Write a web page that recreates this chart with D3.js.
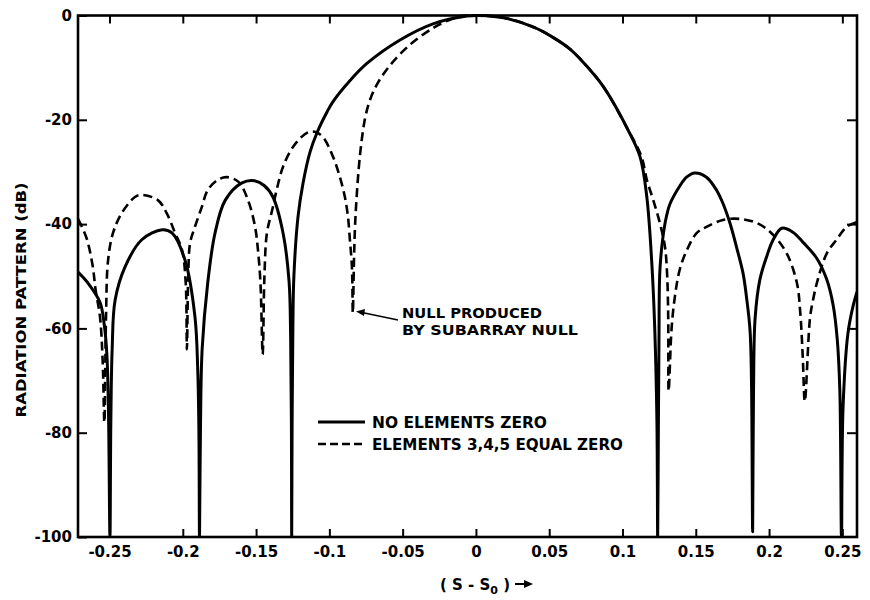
<!DOCTYPE html>
<html>
<head>
<meta charset="utf-8">
<script src="https://cdn.jsdelivr.net/npm/d3@7"></script>
<style>
  html, body { margin: 0; padding: 0; background: #fff; }
  svg { display: block; }
  text { font-family: "DejaVu Sans", sans-serif; font-weight: bold; fill: #000; }
</style>
</head>
<body>
<svg id="chart" width="870" height="600"></svg>
<script>
// Pattern readings: [S - S0, dB]
const noElementsZero = [
  [-0.2715, -49.2], [-0.2647, -51.3], [-0.2565, -55], [-0.2535, -59.5], [-0.2518, -65],
  [-0.2507, -76], [-0.2497, -100], [-0.2491, -78], [-0.2482, -64], [-0.2462, -54.6],
  [-0.2394, -48.2], [-0.228, -43], [-0.214, -41.1], [-0.2074, -41.7], [-0.1985, -46.9],
  [-0.1917, -57.8], [-0.1898, -68], [-0.189, -80], [-0.1886, -100], [-0.1879, -78],
  [-0.1868, -64], [-0.183, -51.3], [-0.178, -41.7], [-0.171, -35.4], [-0.1596, -32.1],
  [-0.151, -31.7], [-0.1445, -32.6], [-0.1385, -34.8], [-0.1316, -41.7], [-0.1275, -51],
  [-0.1264, -62], [-0.1259, -78], [-0.1257, -100], [-0.1254, -78], [-0.1249, -60],
  [-0.1242, -50], [-0.1214, -38.6], [-0.118, -32.2], [-0.1132, -26.2], [-0.108, -22.2],
  [-0.1016, -18.5], [-0.0975, -16.5], [-0.086, -12.5], [-0.0744, -9.2], [-0.0518, -4.7],
  [-0.0293, -1.6], [-0.006, -0.1], [0.003, 0], [0.02, -0.5], [0.039, -2.2],
  [0.052, -4.1], [0.064, -6.4], [0.073, -8.9], [0.0866, -13.5], [0.1037, -21.9],
  [0.112, -27.1], [0.1166, -34.8], [0.12, -47.5], [0.122, -60], [0.1235, -78],
  [0.124, -100], [0.1245, -78], [0.1249, -62], [0.1255, -49], [0.1276, -42.5],
  [0.13, -38.5], [0.1323, -36.2], [0.1391, -32.7], [0.1437, -31], [0.1494, -30.2],
  [0.1573, -31], [0.1642, -33.5], [0.1685, -36], [0.1733, -39.8], [0.1778, -44.4],
  [0.1823, -49.5], [0.1846, -54], [0.187, -60.3], [0.188, -70], [0.1888, -99],
  [0.1894, -72], [0.1905, -58], [0.1937, -50.7], [0.1983, -46.3], [0.2028, -43],
  [0.2087, -40.8], [0.216, -41.5], [0.2232, -43.5], [0.2324, -46.5], [0.2392, -50.5],
  [0.2437, -55.5], [0.2465, -62], [0.2483, -72], [0.2494, -100], [0.2505, -75],
  [0.2538, -61], [0.2575, -55.5], [0.26, -53]
];

const elements345Zero = [
  [-0.2715, -39], [-0.2687, -40.6], [-0.2653, -43], [-0.2615, -48], [-0.2595, -52.6],
  [-0.2565, -57.8], [-0.2547, -66], [-0.2535, -78], [-0.2524, -58], [-0.251, -47],
  [-0.2476, -41.7], [-0.2417, -37.9], [-0.2326, -34.8], [-0.228, -34.4], [-0.217, -35.4],
  [-0.211, -37.9], [-0.2053, -41.7], [-0.2005, -45], [-0.198, -51.3], [-0.1972, -64],
  [-0.1963, -50], [-0.195, -43.6], [-0.1917, -40.5], [-0.187, -36.7], [-0.183, -33.5],
  [-0.176, -31.5], [-0.17, -31], [-0.162, -31.9], [-0.1555, -35.4], [-0.1507, -40.5],
  [-0.1487, -45], [-0.147, -51.3], [-0.1455, -65], [-0.1443, -50], [-0.1426, -41.7],
  [-0.139, -37.3], [-0.136, -33.5], [-0.1316, -29], [-0.1248, -25.2], [-0.1153, -22.5],
  [-0.11, -22.3], [-0.1044, -23.3], [-0.0975, -27.1], [-0.0928, -31], [-0.0894, -34.8],
  [-0.0873, -38.6], [-0.086, -43], [-0.0846, -48.2], [-0.084, -57], [-0.0832, -47],
  [-0.0825, -40.5], [-0.0812, -34], [-0.079, -26.5], [-0.0757, -19.8], [-0.0723, -16.2],
  [-0.0675, -13.2], [-0.0587, -9.6], [-0.045, -5.6], [-0.0293, -2.4], [-0.0177, -0.8],
  [-0.009, -0.05], [0.003, -0.05], [0.02, -0.5], [0.039, -2.2], [0.052, -4.1],
  [0.064, -6.4], [0.073, -8.9], [0.0866, -13.5], [0.1037, -21.9], [0.113, -27.1],
  [0.1166, -31.5], [0.121, -35.4], [0.1255, -39.8], [0.129, -44.4], [0.1305, -50],
  [0.1312, -58], [0.1315, -72], [0.1335, -60], [0.1357, -54], [0.139, -48.8],
  [0.1439, -45], [0.1507, -41.7], [0.1576, -40.5], [0.1685, -39.2], [0.18, -39],
  [0.1917, -39.8], [0.2015, -41.7], [0.212, -45.6], [0.219, -51.3], [0.2213, -57],
  [0.223, -65.5], [0.2244, -74], [0.228, -57.8], [0.23, -54.6], [0.2326, -51.3],
  [0.2394, -45.6], [0.246, -43], [0.253, -40.5], [0.26, -39.6]
];

const xTickValues = [-0.25, -0.2, -0.15, -0.1, -0.05, 0, 0.05, 0.1, 0.15, 0.2, 0.25];
const xTickLabels = ["-0.25", "-0.2", "-0.15", "-0.1", "-0.05", "0", "0.05", "0.1", "0.15", "0.2", "0.25"];
const yTickValues = [0, -20, -40, -60, -80, -100];
const yTickLabels = ["0", "-20", "-40", "-60", "-80", "-100"];

const legendLabels = ["NO ELEMENTS ZERO", "ELEMENTS 3,4,5 EQUAL ZERO"];
const noteLines = ["NULL PRODUCED", "BY SUBARRAY NULL"];
const yTitle = "RADIATION PATTERN (dB)";

// Frame
const plot = { left: 78, right: 857, top: 15.5, bottom: 537 };
const svg = d3.select("#chart");

const x = d3.scaleLinear().domain([-0.2715, 0.26]).range([plot.left, plot.right]);
const y = d3.scaleLinear().domain([-100, 0]).range([plot.bottom, plot.top]);

svg.append("defs").append("clipPath").attr("id", "plotClip")
  .append("rect")
  .attr("x", plot.left).attr("y", plot.top - 2)
  .attr("width", plot.right - plot.left).attr("height", plot.bottom - plot.top + 2);

// Axes: inward ticks on all four sides
const fmtX = d => xTickLabels[xTickValues.indexOf(d)];
const fmtY = d => yTickLabels[yTickValues.indexOf(d)];

const gx = svg.append("g").attr("transform", `translate(0,${plot.bottom})`)
  .call(d3.axisBottom(x).tickValues(xTickValues).tickFormat(fmtX)
    .tickSizeInner(-8).tickSizeOuter(0).tickPadding(9));
const gxTop = svg.append("g").attr("transform", `translate(0,${plot.top})`)
  .call(d3.axisTop(x).tickValues(xTickValues).tickFormat("")
    .tickSizeInner(-8).tickSizeOuter(0));
const gy = svg.append("g").attr("transform", `translate(${plot.left},0)`)
  .call(d3.axisLeft(y).tickValues(yTickValues).tickFormat(fmtY)
    .tickSizeInner(-9).tickSizeOuter(0).tickPadding(6));
const gyRight = svg.append("g").attr("transform", `translate(${plot.right},0)`)
  .call(d3.axisRight(y).tickValues(yTickValues.filter(v => v !== 0 && v !== -100)).tickFormat("")
    .tickSizeInner(-10).tickSizeOuter(0));

[gx, gxTop, gy, gyRight].forEach(g => {
  g.select(".domain").remove();
  g.selectAll(".tick line").attr("stroke", "#000").attr("stroke-width", 2);
  g.selectAll(".tick text")
    .style("font-family", "'DejaVu Sans', sans-serif")
    .style("font-weight", "bold")
    .style("font-size", "15px")
    .attr("fill", "#000");
});

// Plot frame
svg.append("rect")
  .attr("x", plot.left).attr("y", plot.top)
  .attr("width", plot.right - plot.left).attr("height", plot.bottom - plot.top)
  .attr("fill", "none").attr("stroke", "#000").attr("stroke-width", 2.6);

// Pattern curves
const line = d3.line()
  .x(d => x(d[0])).y(d => y(d[1]))
  .curve(d3.curveCatmullRom.alpha(0.5));

const curves = svg.append("g").attr("clip-path", "url(#plotClip)");
curves.append("path")
  .datum(noElementsZero)
  .attr("d", line)
  .attr("fill", "none").attr("stroke", "#000")
  .attr("stroke-width", 3).attr("stroke-linejoin", "round");
curves.append("path")
  .datum(elements345Zero)
  .attr("d", line)
  .attr("fill", "none").attr("stroke", "#000")
  .attr("stroke-width", 2.6).attr("stroke-dasharray", "9,5");

// Y title
svg.append("text")
  .attr("transform", "translate(26,300) rotate(-90)")
  .attr("text-anchor", "middle")
  .attr("textLength", 235).attr("lengthAdjust", "spacingAndGlyphs")
  .style("font-size", "14px")
  .text(yTitle);

// X title with subscript and arrow
const xt = svg.append("text")
  .attr("x", 440).attr("y", 590)
  .style("font-size", "15px");
xt.append("tspan").text("( S - S");
xt.append("tspan").attr("dy", 4).style("font-size", "11px").text("0");
xt.append("tspan").attr("dy", -4).text(" )");
svg.append("line")
  .attr("x1", 515).attr("y1", 584).attr("x2", 526).attr("y2", 584)
  .attr("stroke", "#000").attr("stroke-width", 2);
svg.append("path")
  .attr("d", "M524,580 L533,584 L524,588 Z")
  .attr("fill", "#000");

// Annotation for the subarray null
svg.append("line")
  .attr("x1", 398).attr("y1", 320).attr("x2", 362).attr("y2", 312.5)
  .attr("stroke", "#000").attr("stroke-width", 1.5);
svg.append("path")
  .attr("d", "M356,311.5 L365,309 L364,316 Z")
  .attr("fill", "#000");
const noteX = 402;
[[noteLines[0], 318, 140], [noteLines[1], 335, 176]].forEach(([t, yy, len]) => {
  svg.append("text")
    .attr("x", noteX).attr("y", yy)
    .attr("textLength", len).attr("lengthAdjust", "spacingAndGlyphs")
    .style("font-size", "14px")
    .text(t);
});

// Legend
const legend = svg.append("g");
const legendRows = [
  { label: legendLabels[0], y: 422, dash: null, len: 175 },
  { label: legendLabels[1], y: 444, dash: "8,4", len: 251 }
];
legendRows.forEach(r => {
  legend.append("line")
    .attr("x1", 318).attr("x2", 365).attr("y1", r.y).attr("y2", r.y)
    .attr("stroke", "#000").attr("stroke-width", r.dash ? 2.6 : 3)
    .attr("stroke-dasharray", r.dash);
  legend.append("text")
    .attr("x", 372).attr("y", r.y + 6)
    .attr("textLength", r.len).attr("lengthAdjust", "spacingAndGlyphs")
    .style("font-size", "15px")
    .text(r.label);
});
</script>
</body>
</html>
